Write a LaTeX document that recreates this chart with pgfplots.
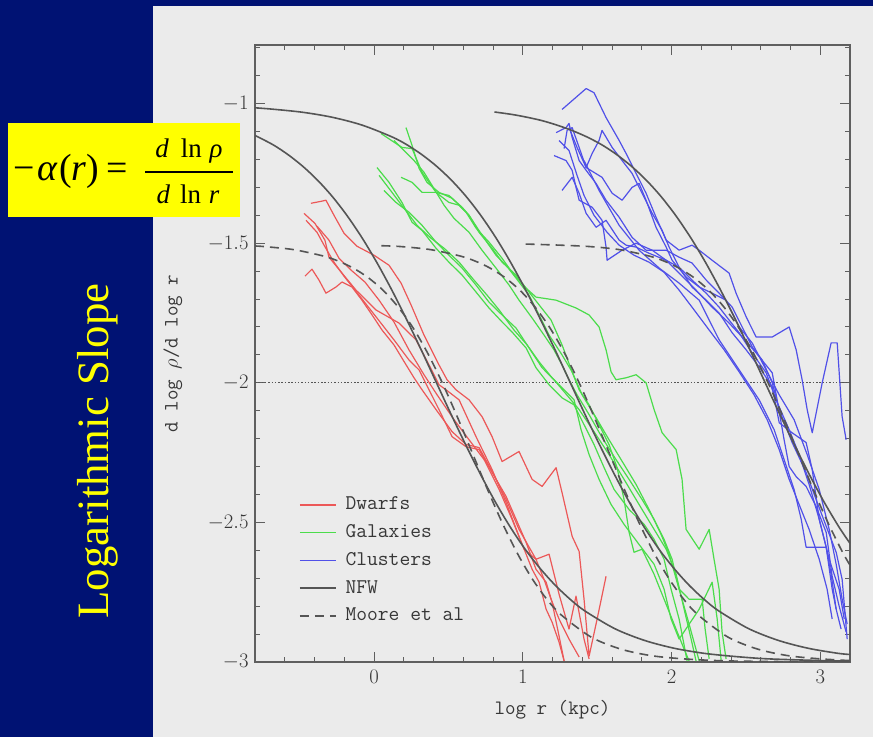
\documentclass[border=0pt]{standalone}
\usepackage{fontspec}
\usepackage{pgfplots}
\pgfplotsset{compat=1.18}
\newfontfamily\serifT{Liberation Serif}
\definecolor{navy}{RGB}{0,18,115}
\definecolor{panel}{RGB}{235,235,235}
\definecolor{axgray}{RGB}{95,95,95}
\definecolor{txtgray}{RGB}{55,55,55}
\definecolor{cred}{RGB}{236,88,88}
\definecolor{cgreen}{RGB}{75,220,75}
\definecolor{cblue}{RGB}{80,80,232}
\definecolor{nfw}{RGB}{85,85,85}
\definecolor{yel}{RGB}{255,255,0}
\begin{document}
\begin{tikzpicture}[x=1bp,y=1bp]
\fill[navy] (0,0) rectangle (873,737);
\fill[panel] (153,0) rectangle (873,731);
\begin{axis}[
  at={(255bp,75bp)}, anchor=south west,
  scale only axis, width=595bp, height=617bp,
  xmin=-0.8, xmax=3.2, ymin=-3, ymax=-0.79,
  xtick={0,1,2,3}, ytick={-3,-2.5,-2,-1.5,-1},
  minor xtick={-0.8,-0.6,...,3.2},
  minor ytick={-3,-2.9,...,-0.8},
  tick align=inside,
  major tick length=10bp, minor tick length=5bp,
  axis line style={axgray, line width=1.2bp},
  tick style={axgray, line width=1bp},
  tick label style={font=\fontsize{20}{24}\selectfont, text=txtgray},
  xticklabel style={yshift=-5bp},
  yticklabel style={xshift=-3bp},
  xlabel={log r (kpc)}, ylabel={d log $\rho$/d log r},
  label style={font=\fontsize{20.5}{24}\selectfont\ttfamily, text=txtgray},
  xlabel style={at={(axis description cs:0.5,-0.078)}, anchor=center},
  ylabel style={at={(axis description cs:-0.138,0.5)}, anchor=center},
  legend cell align=left,
  legend image code/.code={\draw[#1] (0bp,0bp) -- (36bp,0bp);},
  legend style={draw=none, fill=none, inner sep=0pt, outer sep=0pt,
    column sep=9bp, row sep=9.75bp,
    font=\fontsize{21}{24}\selectfont\ttfamily, text=txtgray,
    nodes={inner sep=0pt, text height=14bp, text depth=4bp},
    at={(axis cs:-0.504,-2.405)}, anchor=north west},
  data/.style={line width=1.2bp, line join=round},
  model/.style={nfw, line width=1.6bp},
]
\addlegendimage{cred, line width=1.6bp}\addlegendentry{Dwarfs}
\addlegendimage{cgreen, line width=1.6bp}\addlegendentry{Galaxies}
\addlegendimage{cblue, line width=1.6bp}\addlegendentry{Clusters}
\addlegendimage{nfw, line width=1.6bp}\addlegendentry{NFW}
\addlegendimage{nfw, line width=1.6bp, dash pattern=on 9bp off 6bp}\addlegendentry{Moore et al}

% dotted -2 line
\addplot[forget plot, nfw, line width=1.2bp, dash pattern=on 1.5bp off 1.8bp] coordinates {(-0.8,-2) (3.2,-2)};

% ---- Dwarfs (red)
\addplot[forget plot, data, cred] coordinates {(-0.424,-1.357)(-0.356,-1.350)(-0.323,-1.346)(-0.269,-1.400)(-0.202,-1.464)(-0.114,-1.511)(0,-1.543)(0.101,-1.579)(0.182,-1.643)(0.249,-1.721)(0.336,-1.829)(0.437,-1.936)(0.491,-1.989)(0.551,-2.025)(0.639,-2.061)(0.726,-2.121)(0.794,-2.193)(0.861,-2.282)(0.975,-2.246)(1.063,-2.346)(1.130,-2.371)(1.224,-2.304)(1.264,-2.393)(1.332,-2.550)(1.379,-2.604)(1.412,-2.775)(1.446,-2.979)(1.500,-2.846)(1.560,-2.693)};
\addplot[forget plot, data, cred] coordinates {(-0.471,-1.393)(-0.397,-1.429)(-0.330,-1.489)(-0.303,-1.550)(-0.215,-1.607)(-0.121,-1.668)(0.013,-1.739)(0.168,-1.786)(0.282,-1.846)(0.370,-1.936)(0.437,-2.007)(0.484,-2.025)(0.572,-2.061)(0.686,-2.193)(0.794,-2.311)(0.888,-2.429)(0.975,-2.550)(1.063,-2.668)(1.110,-2.714)(1.157,-2.811)(1.197,-2.857)(1.244,-2.929)(1.278,-2.996)};
\addplot[forget plot, data, cred] coordinates {(-0.457,-1.418)(-0.383,-1.461)(-0.336,-1.507)(-0.269,-1.568)(-0.202,-1.618)(-0.101,-1.686)(0.020,-1.768)(0.134,-1.846)(0.235,-1.918)(0.303,-1.954)(0.437,-2.096)(0.525,-2.193)(0.619,-2.229)(0.706,-2.239)(0.794,-2.321)(0.888,-2.407)(0.955,-2.489)(1.022,-2.571)(1.089,-2.668)(1.157,-2.714)(1.197,-2.786)(1.244,-2.907)(1.278,-2.996)};
\addplot[forget plot, data, cred] coordinates {(-0.464,-1.618)(-0.417,-1.593)(-0.370,-1.632)(-0.323,-1.679)(-0.256,-1.657)(-0.215,-1.639)(-0.148,-1.657)(-0.081,-1.704)(-0.013,-1.757)(0.054,-1.811)(0.134,-1.864)(0.208,-1.929)(0.269,-1.982)(0.323,-2.025)(0.417,-2.096)(0.525,-2.175)(0.619,-2.221)(0.706,-2.232)(0.794,-2.318)(0.888,-2.418)(0.975,-2.525)(1.089,-2.632)(1.177,-2.614)(1.244,-2.757)(1.311,-2.882)(1.358,-2.764)(1.412,-2.918)(1.446,-2.989)};
\addplot[forget plot, data, cred] coordinates {(-0.383,-1.439)(-0.303,-1.489)(-0.235,-1.554)(-0.155,-1.596)(-0.061,-1.639)(0.034,-1.704)(0.134,-1.782)(0.235,-1.882)(0.336,-1.971)(0.424,-2.043)(0.538,-2.132)(0.639,-2.204)(0.740,-2.275)(0.841,-2.382)(0.928,-2.489)(1.009,-2.596)(1.089,-2.632)(1.143,-2.704)(1.190,-2.775)(1.244,-2.846)(1.311,-2.918)(1.379,-2.982)};

% ---- Galaxies (green)
\addplot[forget plot, data, cgreen] coordinates {(0.215,-1.086)(0.256,-1.150)(0.303,-1.232)(0.356,-1.282)(0.437,-1.318)(0.525,-1.339)(0.619,-1.389)(0.686,-1.446)(0.773,-1.496)(0.861,-1.554)(0.928,-1.604)(1.022,-1.661)(1.089,-1.693)(1.224,-1.704)(1.358,-1.732)(1.446,-1.757)(1.513,-1.800)(1.560,-1.882)(1.594,-1.961)(1.627,-1.989)(1.695,-1.982)(1.762,-1.971)(1.829,-2.000)(1.883,-2.096)(1.937,-2.179)(2.031,-2.239)(2.071,-2.346)(2.098,-2.525)(2.186,-2.596)(2.253,-2.525)(2.286,-2.632)(2.320,-2.739)(2.340,-2.893)(2.367,-2.989)};
\addplot[forget plot, data, cgreen] coordinates {(0.047,-1.107)(0.188,-1.157)(0.256,-1.161)(0.323,-1.246)(0.417,-1.318)(0.504,-1.329)(0.592,-1.371)(0.639,-1.400)(0.726,-1.471)(0.820,-1.543)(0.888,-1.579)(0.975,-1.639)(1.042,-1.686)(1.110,-1.757)(1.177,-1.829)(1.264,-1.900)(1.332,-1.961)(1.379,-2.025)(1.446,-2.079)(1.513,-2.150)(1.580,-2.221)(1.634,-2.304)(1.681,-2.418)(1.715,-2.536)(1.748,-2.607)(1.802,-2.596)(1.883,-2.686)(1.950,-2.775)(2.017,-2.864)(2.085,-2.954)(2.118,-2.996)};
\addplot[forget plot, data, cgreen] coordinates {(0.020,-1.229)(0.101,-1.282)(0.188,-1.354)(0.256,-1.425)(0.323,-1.454)(0.417,-1.518)(0.504,-1.568)(0.592,-1.614)(0.686,-1.675)(0.773,-1.732)(0.861,-1.782)(0.928,-1.818)(1.022,-1.875)(1.089,-1.946)(1.177,-2.007)(1.264,-2.054)(1.345,-2.079)(1.412,-2.150)(1.479,-2.221)(1.547,-2.304)(1.614,-2.382)(1.715,-2.454)(1.816,-2.507)(1.883,-2.561)(1.950,-2.632)(1.997,-2.739)(2.051,-2.846)(2.105,-2.996)};
\addplot[forget plot, data, cgreen] coordinates {(0.182,-1.264)(0.256,-1.282)(0.323,-1.318)(0.417,-1.318)(0.504,-1.354)(0.572,-1.364)(0.639,-1.400)(0.706,-1.461)(0.794,-1.518)(0.861,-1.568)(0.955,-1.614)(1.022,-1.661)(1.110,-1.721)(1.190,-1.775)(1.264,-1.864)(1.332,-1.961)(1.399,-2.043)(1.493,-2.125)(1.580,-2.204)(1.661,-2.275)(1.762,-2.364)(1.849,-2.454)(1.930,-2.543)(1.984,-2.614)(2.051,-2.739)(2.118,-2.864)(2.186,-2.996)};
\addplot[forget plot, data, cgreen] coordinates {(0.067,-1.311)(0.148,-1.354)(0.235,-1.389)(0.323,-1.436)(0.417,-1.496)(0.504,-1.543)(0.592,-1.589)(0.686,-1.650)(0.773,-1.711)(0.861,-1.757)(0.955,-1.804)(1.042,-1.875)(1.130,-1.946)(1.210,-1.989)(1.278,-2.032)(1.379,-2.096)(1.479,-2.175)(1.580,-2.257)(1.681,-2.346)(1.782,-2.436)(1.883,-2.525)(1.964,-2.596)(2.031,-2.686)(2.085,-2.811)(2.132,-2.918)(2.165,-2.996)};
\addplot[forget plot, data, cgreen] coordinates {(0.034,-1.257)(0.121,-1.318)(0.202,-1.375)(0.289,-1.436)(0.383,-1.482)(0.471,-1.518)(0.572,-1.568)(0.672,-1.632)(0.760,-1.686)(0.841,-1.739)(0.941,-1.811)(1.029,-1.864)(1.110,-1.925)(1.197,-1.982)(1.278,-2.025)(1.345,-2.061)(1.392,-2.168)(1.446,-2.257)(1.513,-2.346)(1.594,-2.436)(1.681,-2.507)(1.782,-2.579)(1.883,-2.650)(1.950,-2.739)(1.997,-2.846)(2.051,-2.918)(2.186,-2.811)(2.273,-2.714)(2.307,-2.846)(2.334,-2.996)};
\addplot[forget plot, data, cgreen] coordinates {(0.134,-1.132)(0.202,-1.168)(0.269,-1.204)(0.336,-1.246)(0.403,-1.304)(0.471,-1.364)(0.538,-1.411)(0.639,-1.461)(0.726,-1.525)(0.820,-1.589)(0.908,-1.650)(0.975,-1.704)(1.063,-1.768)(1.143,-1.829)(1.210,-1.882)(1.264,-1.936)(1.311,-1.989)(1.365,-2.043)(1.446,-2.114)(1.533,-2.196)(1.627,-2.275)(1.715,-2.346)(1.802,-2.418)(1.883,-2.489)(1.950,-2.561)(2.004,-2.632)(2.051,-2.739)(2.118,-2.775)(2.206,-2.775)(2.226,-2.882)(2.253,-2.989)};

% ---- Clusters (blue)
\addplot[forget plot, data, cblue] coordinates {(1.264,-1.021)(1.426,-0.946)(1.479,-0.961)(1.560,-1.050)(1.648,-1.132)(1.695,-1.179)(1.762,-1.250)(1.829,-1.321)(1.896,-1.407)(1.964,-1.489)(2.051,-1.525)(2.138,-1.507)(2.186,-1.525)(2.273,-1.561)(2.387,-1.607)(2.434,-1.679)(2.502,-1.764)(2.569,-1.836)(2.677,-1.836)(2.791,-1.800)(2.838,-1.882)(2.878,-1.989)(2.912,-2.096)(2.946,-2.179)(3.013,-2.000)(3.073,-1.857)(3.114,-1.857)(3.147,-2.121)(3.174,-2.204)};
\addplot[forget plot, data, cblue] coordinates {(1.224,-1.104)(1.291,-1.086)(1.311,-1.071)(1.332,-1.121)(1.379,-1.204)(1.426,-1.239)(1.493,-1.286)(1.560,-1.346)(1.648,-1.407)(1.735,-1.479)(1.829,-1.525)(1.964,-1.525)(2.051,-1.550)(2.138,-1.571)(2.233,-1.632)(2.320,-1.679)(2.408,-1.729)(2.475,-1.800)(2.542,-1.871)(2.609,-1.918)(2.677,-2.000)(2.724,-2.096)(2.811,-2.214)(2.905,-2.321)(2.972,-2.418)(3.040,-2.514)(3.107,-2.607)(3.147,-2.704)(3.181,-2.918)};
\addplot[forget plot, data, cblue] coordinates {(1.264,-1.311)(1.332,-1.264)(1.379,-1.321)(1.426,-1.393)(1.493,-1.443)(1.560,-1.418)(1.648,-1.489)(1.695,-1.507)(1.762,-1.514)(1.849,-1.536)(1.964,-1.561)(2.051,-1.607)(2.165,-1.668)(2.273,-1.729)(2.387,-1.786)(2.475,-1.836)(2.569,-1.893)(2.677,-1.964)(2.710,-2.061)(2.757,-2.204)(2.791,-2.300)(2.838,-2.336)(2.905,-2.371)(2.972,-2.443)(3.040,-2.536)(3.080,-2.693)(3.127,-2.800)(3.174,-2.893)};
\addplot[forget plot, data, cblue] coordinates {(1.210,-1.186)(1.291,-1.204)(1.332,-1.239)(1.358,-1.300)(1.379,-1.346)(1.466,-1.371)(1.533,-1.418)(1.560,-1.514)(1.567,-1.561)(1.668,-1.525)(1.762,-1.500)(1.870,-1.525)(1.964,-1.561)(2.051,-1.586)(2.138,-1.657)(2.233,-1.704)(2.320,-1.750)(2.408,-1.821)(2.502,-1.882)(2.589,-1.943)(2.677,-2.014)(2.724,-2.143)(2.811,-2.179)(2.905,-2.214)(2.946,-2.311)(2.993,-2.489)(3.040,-2.589)(3.080,-2.739)(3.107,-2.811)};
\addplot[forget plot, data, cblue] coordinates {(1.278,-1.161)(1.298,-1.096)(1.332,-1.086)(1.379,-1.157)(1.426,-1.229)(1.466,-1.179)(1.513,-1.132)(1.533,-1.096)(1.601,-1.157)(1.668,-1.204)(1.735,-1.250)(1.802,-1.321)(1.870,-1.393)(1.937,-1.454)(1.984,-1.514)(2.051,-1.586)(2.138,-1.632)(2.233,-1.679)(2.320,-1.729)(2.387,-1.775)(2.455,-1.821)(2.542,-1.893)(2.636,-1.964)(2.703,-2.061)(2.791,-2.168)(2.858,-2.257)(2.925,-2.364)(2.993,-2.489)(3.060,-2.632)(3.127,-2.739)(3.161,-2.846)};
\addplot[forget plot, data, cblue] coordinates {(1.311,-1.086)(1.365,-1.157)(1.426,-1.229)(1.533,-1.264)(1.601,-1.321)(1.668,-1.346)(1.735,-1.300)(1.782,-1.286)(1.829,-1.346)(1.896,-1.443)(1.964,-1.514)(2.004,-1.561)(2.098,-1.621)(2.186,-1.657)(2.273,-1.679)(2.367,-1.704)(2.455,-1.800)(2.542,-1.857)(2.636,-1.954)(2.724,-2.043)(2.824,-2.132)(2.912,-2.257)(2.993,-2.382)(3.060,-2.525)(3.107,-2.650)(3.147,-2.775)(3.181,-2.864)};
\addplot[forget plot, data, cblue] coordinates {(1.244,-1.132)(1.311,-1.168)(1.365,-1.257)(1.412,-1.329)(1.479,-1.400)(1.567,-1.461)(1.648,-1.507)(1.748,-1.543)(1.849,-1.568)(1.950,-1.604)(2.051,-1.668)(2.152,-1.739)(2.253,-1.811)(2.354,-1.882)(2.455,-1.961)(2.555,-2.043)(2.643,-2.132)(2.724,-2.239)(2.791,-2.346)(2.858,-2.436)(2.925,-2.525)(2.993,-2.632)(3.046,-2.739)(3.080,-2.846)};
\addplot[forget plot, data, cblue] coordinates {(1.412,-1.204)(1.513,-1.311)(1.648,-1.436)(1.782,-1.525)(1.917,-1.589)(2.051,-1.643)(2.186,-1.704)(2.320,-1.846)(2.455,-1.954)(2.589,-2.061)(2.690,-2.168)(2.757,-2.275)(2.824,-2.382)(2.872,-2.489)(2.905,-2.589)(3.040,-2.589)(3.073,-2.686)(3.107,-2.811)(3.140,-2.882)};

% ---- NFW (solid)
\addplot[forget plot, model, smooth] coordinates {(-0.8,-1.114)(-0.68,-1.147)(-0.58,-1.182)(-0.48,-1.224)(-0.38,-1.274)(-0.28,-1.333)(-0.18,-1.402)(-0.08,-1.481)(0.02,-1.570)(0.12,-1.668)(0.22,-1.774)(0.32,-1.885)(0.42,-2.0)(0.52,-2.115)(0.62,-2.226)(0.72,-2.332)(0.82,-2.431)(0.92,-2.520)(1.02,-2.599)(1.12,-2.667)(1.22,-2.726)(1.32,-2.776)(1.42,-2.818)(1.62,-2.881)(1.82,-2.923)(2.02,-2.951)(2.22,-2.969)(2.42,-2.980)(2.62,-2.988)(2.82,-2.992)(3.02,-2.995)(3.2,-2.997)};
\addplot[forget plot, model, smooth] coordinates {(-0.8,-1.015)(-0.68,-1.020)(-0.48,-1.031)(-0.28,-1.049)(-0.08,-1.077)(0.12,-1.119)(0.22,-1.147)(0.32,-1.182)(0.42,-1.224)(0.52,-1.274)(0.62,-1.333)(0.72,-1.402)(0.82,-1.481)(0.92,-1.570)(1.02,-1.668)(1.12,-1.774)(1.22,-1.885)(1.32,-2.0)(1.42,-2.115)(1.52,-2.226)(1.62,-2.332)(1.72,-2.431)(1.82,-2.520)(1.92,-2.599)(2.02,-2.667)(2.12,-2.726)(2.22,-2.776)(2.32,-2.818)(2.52,-2.881)(2.72,-2.923)(2.92,-2.951)(3.12,-2.969)(3.2,-2.973)};
\addplot[forget plot, model, smooth] coordinates {(0.81,-1.030)(0.93,-1.039)(1.03,-1.049)(1.13,-1.061)(1.23,-1.077)(1.33,-1.096)(1.43,-1.119)(1.53,-1.147)(1.63,-1.182)(1.73,-1.224)(1.83,-1.274)(1.93,-1.333)(2.03,-1.402)(2.13,-1.481)(2.23,-1.570)(2.33,-1.668)(2.43,-1.774)(2.53,-1.885)(2.63,-2.0)(2.73,-2.115)(2.83,-2.226)(2.93,-2.332)(3.03,-2.431)(3.13,-2.520)(3.2,-2.575)};

% ---- Moore et al (dashed)
\addplot[forget plot, model, smooth, dash pattern=on 9bp off 6bp] coordinates {(-0.8,-1.510)(-0.74,-1.512)(-0.54,-1.523)(-0.34,-1.546)(-0.24,-1.564)(-0.14,-1.589)(-0.04,-1.623)(0.06,-1.668)(0.16,-1.727)(0.26,-1.801)(0.36,-1.893)(0.46,-2.001)(0.56,-2.122)(0.66,-2.250)(0.76,-2.378)(0.86,-2.499)(0.96,-2.607)(1.06,-2.699)(1.16,-2.774)(1.26,-2.832)(1.46,-2.911)(1.66,-2.954)(1.86,-2.977)(2.06,-2.988)(2.26,-2.994)(2.46,-2.997)(2.86,-2.999)(3.2,-3.0)};
\addplot[forget plot, model, smooth, dash pattern=on 9bp off 6bp] coordinates {(0.05,-1.509)(0.18,-1.512)(0.38,-1.523)(0.58,-1.546)(0.68,-1.564)(0.78,-1.589)(0.88,-1.623)(0.98,-1.668)(1.08,-1.727)(1.18,-1.801)(1.28,-1.893)(1.38,-2.001)(1.48,-2.122)(1.58,-2.250)(1.68,-2.378)(1.78,-2.499)(1.88,-2.607)(1.98,-2.699)(2.08,-2.774)(2.18,-2.832)(2.38,-2.911)(2.58,-2.954)(2.78,-2.977)(2.98,-2.988)(3.2,-2.995)};
\addplot[forget plot, model, smooth, dash pattern=on 9bp off 6bp] coordinates {(1.02,-1.503)(1.25,-1.507)(1.45,-1.512)(1.65,-1.523)(1.85,-1.546)(1.95,-1.564)(2.05,-1.589)(2.15,-1.623)(2.25,-1.668)(2.35,-1.727)(2.45,-1.801)(2.55,-1.893)(2.65,-2.001)(2.75,-2.122)(2.85,-2.250)(2.95,-2.378)(3.05,-2.499)(3.15,-2.607)(3.2,-2.653)};
\end{axis}

% title and formula
\node[rotate=90, text=yel, font=\fontsize{45}{54}\selectfont\serifT] at (98bp,286bp) {Logarithmic Slope};
\fill[yel] (8bp,520bp) rectangle (240bp,614bp);
\node[anchor=base west, inner sep=0pt] at (13bp,556bp) {\fontsize{38}{44}\selectfont\serifT −\kern3bp\textit{α}\kern1bp(\textit{r})\kern7bp=};
\node[anchor=base, inner sep=0pt] at (189bp,579bp) {\fontsize{27}{32}\selectfont\serifT\itshape d\kern12bp\upshape ln\kern8bp\itshape ρ};
\draw[black, line width=1.6bp] (145bp,565bp) -- (233bp,565bp);
\node[anchor=base, inner sep=0pt] at (188bp,533bp) {\fontsize{27}{32}\selectfont\serifT\itshape d\kern10bp\upshape ln\kern8bp\itshape r};
\end{tikzpicture}
\end{document}
